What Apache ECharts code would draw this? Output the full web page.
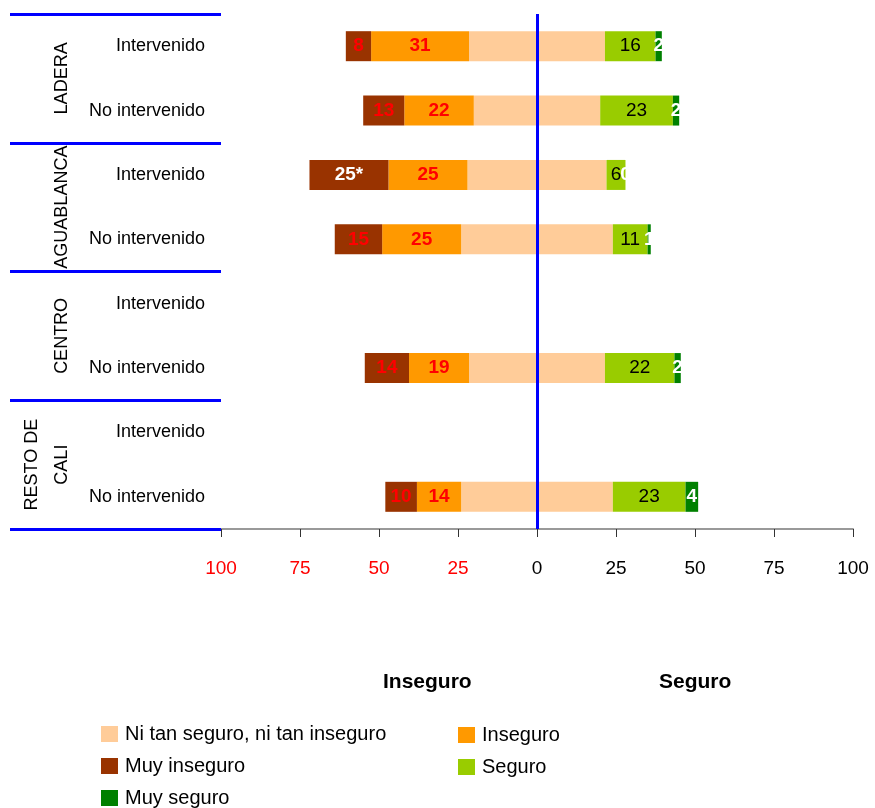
<!DOCTYPE html>
<html>
<head>
<meta charset="utf-8">
<script src="https://cdn.jsdelivr.net/npm/echarts@6/dist/echarts.min.js"></script>
<style>
  html, body { margin: 0; padding: 0; background: #fff; }
  #chart { width: 875px; height: 808px; }
</style>
</head>
<body>
<div id="chart"></div>
<script>
// filas de arriba hacia abajo
const categories = ['Intervenido', 'No intervenido', 'Intervenido', 'No intervenido',
                    'Intervenido', 'No intervenido', 'Intervenido', 'No intervenido'];
const groups = ['LADERA', 'AGUABLANCA', 'CENTRO', 'RESTO DE\nCALI'];

const neutral     = [43, 40, 44, 48, null, 43, null, 48];
const inseguro    = [31, 22, 25, 25, null, 19, null, 14];
const muyInseguro = [8, 13, 25, 15, null, 14, null, 10];
const muyInseguroMark = ['', '', '*', '', '', '', '', ''];
const seguro      = [16, 23, 6, 11, null, 22, null, 23];
const muySeguro   = [2, 2, 0, 1, null, 2, null, 4];

const FONT = "'Liberation Sans', Arial, sans-serif";
const NEUTRAL = 'Ni tan seguro, ni tan inseguro';

const neg = arr => arr.map(v => v == null ? null : -v);
const half = (arr, s) => arr.map(v => v == null ? null : s * v / 2);

const chart = echarts.init(document.getElementById('chart'));

const labelStyle = (color, bold) => ({
  show: true,
  position: 'inside',
  color: color,
  fontFamily: FONT,
  fontSize: 19,
  fontWeight: bold ? 'bold' : 'normal'
});

const legendBase = {
  orient: 'vertical',
  padding: 0,
  icon: 'rect',
  itemWidth: 17, itemHeight: 16, itemGap: 12,
  textStyle: { fontSize: 20, color: '#000', fontFamily: FONT, padding: [0, 0, 0, 2] }
};

chart.setOption({
  animation: false,
  textStyle: { fontFamily: FONT },
  grid: { left: 221, right: 22, top: 14, height: 515, containLabel: false },
  xAxis: {
    type: 'value',
    min: -100, max: 100, interval: 25,
    splitLine: { show: false },
    axisLine: { show: true, lineStyle: { color: '#999', width: 2 } },
    axisTick: { show: true, length: 8, lineStyle: { color: '#333' } },
    axisLabel: {
      margin: 30,
      fontSize: 19,
      fontFamily: FONT,
      formatter: v => Math.abs(v),
      color: v => (v < 0 ? '#FF0000' : '#000')
    }
  },
  yAxis: [
    {
      type: 'category',
      data: categories,
      inverse: true,
      axisLine: { show: false },
      axisTick: { show: false },
      axisLabel: { interval: 0, margin: 16, fontSize: 18, color: '#000', fontFamily: FONT }
    },
    {
      type: 'category',
      data: groups,
      inverse: true,
      position: 'left',
      axisLine: { show: false },
      axisTick: { show: true, interval: 0, length: 211, lineStyle: { color: '#0000FF', width: 3 } },
      axisLabel: { interval: 0, rotate: 90, margin: 144, fontSize: 18, color: '#000', fontFamily: FONT, lineHeight: 30 }
    }
  ],
  legend: [
    Object.assign({ data: [NEUTRAL, 'Muy inseguro', 'Muy seguro'], left: 101, bottom: 0 }, legendBase),
    Object.assign({ data: ['Inseguro', 'Seguro'], left: 458, top: 725 }, legendBase)
  ],
  graphic: [
    { type: 'text', left: 383, top: 672,
      style: { text: 'Inseguro', font: 'bold 21px ' + FONT, fill: '#000' } },
    { type: 'text', left: 659, top: 672,
      style: { text: 'Seguro', font: 'bold 21px ' + FONT, fill: '#000' } }
  ],
  series: [
    {
      name: NEUTRAL, type: 'bar', stack: 'total', barWidth: 30,
      itemStyle: { color: '#FFCC99' },
      data: half(neutral, -1),
      markLine: {
        silent: true, symbol: 'none',
        label: { show: false },
        lineStyle: { color: '#0000FF', width: 3, type: 'solid' },
        data: [{ xAxis: 0 }]
      }
    },
    {
      name: NEUTRAL, type: 'bar', stack: 'total', barWidth: 30,
      itemStyle: { color: '#FFCC99' },
      data: half(neutral, 1)
    },
    {
      name: 'Inseguro', type: 'bar', stack: 'total', barWidth: 30,
      itemStyle: { color: '#FF9900' },
      label: Object.assign(labelStyle('#FF0000', true), { formatter: p => Math.abs(p.value) }),
      data: neg(inseguro)
    },
    {
      name: 'Muy inseguro', type: 'bar', stack: 'total', barWidth: 30,
      itemStyle: { color: '#993300' },
      label: Object.assign(labelStyle('#FF0000', true), {
        formatter: p => Math.abs(p.value) + muyInseguroMark[p.dataIndex]
      }),
      data: muyInseguro.map((v, i) => v == null ? null :
        (muyInseguroMark[i] ? { value: -v, label: { color: '#fff' } } : -v))
    },
    {
      name: 'Seguro', type: 'bar', stack: 'total', barWidth: 30,
      itemStyle: { color: '#99CC00' },
      label: Object.assign(labelStyle('#000', false), { formatter: p => p.value }),
      data: seguro
    },
    {
      name: 'Muy seguro', type: 'bar', stack: 'total', barWidth: 30,
      itemStyle: { color: '#008000' },
      label: Object.assign(labelStyle('#fff', true), { formatter: p => p.value }),
      data: muySeguro
    }
  ]
});
</script>
</body>
</html>
